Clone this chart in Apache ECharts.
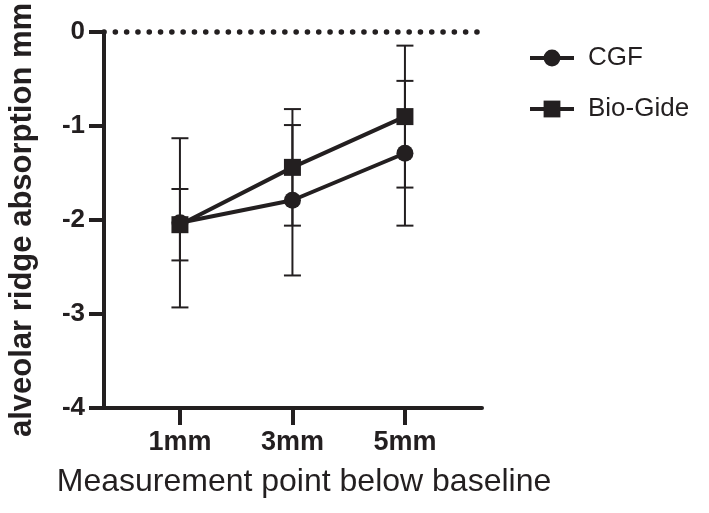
<!DOCTYPE html>
<html>
<head>
<meta charset="utf-8">
<script src="https://cdn.jsdelivr.net/npm/echarts@6/dist/echarts.min.js"></script>
<style>
  html, body { margin: 0; padding: 0; background: #fff; }
  #chart { width: 709px; height: 513px; }
</style>
</head>
<body>
<div id="chart"></div>
<script>
const categories = ['1mm', '3mm', '5mm']
const xPos = [1, 3, 5]
const cgfMean = [-2.03, -1.79, -1.29]
const cgfSd = [0.90, 0.80, 0.77]
const bioMean = [-2.05, -1.44, -0.90]
const bioSd = [0.38, 0.62, 0.755]

const ink = '#231f20'
const font = 'Liberation Sans, Arial, sans-serif'

const chart = echarts.init(document.getElementById('chart'))

const errData = (mean, sd) => xPos.map((x, i) => [x, mean[i] - sd[i], mean[i] + sd[i]])

const renderErr = (params, api) => {
  const x = api.value(0)
  const lo = api.coord([x, api.value(1)])
  const hi = api.coord([x, api.value(2)])
  const half = 8.5
  const st = { stroke: ink, lineWidth: 2 }
  return {
    type: 'group',
    children: [
      { type: 'line', shape: { x1: hi[0], y1: hi[1], x2: lo[0], y2: lo[1] }, style: st },
      { type: 'line', shape: { x1: hi[0] - half, y1: hi[1], x2: hi[0] + half, y2: hi[1] }, style: st },
      { type: 'line', shape: { x1: lo[0] - half, y1: lo[1], x2: lo[0] + half, y2: lo[1] }, style: st },
    ],
  }
}

const option = {
  animation: false,
  grid: { left: 104, right: 227, top: 32, bottom: 105, outerBoundsMode: 'none' },
  legend: {
    data: ['CGF', 'Bio-Gide'],
    orient: 'vertical',
    left: 523,
    top: 40,
    itemWidth: 44,
    itemHeight: 21,
    itemGap: 25,
    lineStyle: { width: 4, color: ink },
    textStyle: { fontFamily: font, fontSize: 26, color: ink, padding: [0, 0, 0, 9] },
  },
  xAxis: {
    type: 'value',
    min: -0.35,
    max: 6.37,
    name: 'Measurement point below baseline',
    nameLocation: 'middle',
    nameGap: 58,
    nameTextStyle: { fontFamily: font, fontSize: 32, color: ink, padding: [0, 0, 0, 22] },
    axisLine: { onZero: false, lineStyle: { color: ink, width: 4 } },
    axisTick: { customValues: xPos, length: 17, lineStyle: { color: ink, width: 4 } },
    axisLabel: {
      customValues: xPos,
      margin: 21,
      fontFamily: font,
      fontSize: 27,
      fontWeight: 'bold',
      color: ink,
      formatter: v => categories[xPos.indexOf(v)] || '',
    },
    splitLine: { show: false },
  },
  yAxis: {
    type: 'value',
    min: -4,
    max: 0,
    interval: 1,
    name: 'alveolar ridge absorption mm',
    nameLocation: 'middle',
    nameGap: 66,
    nameTextStyle: { fontFamily: font, fontSize: 31, fontWeight: 'bold', color: ink },
    axisLine: { onZero: false, lineStyle: { color: ink, width: 4 } },
    axisTick: { length: 15, lineStyle: { color: ink, width: 4 } },
    axisLabel: { margin: 19, fontFamily: font, fontSize: 26, fontWeight: 'bold', color: ink },
    splitLine: { show: false },
  },
  series: [
    {
      type: 'custom',
      name: 'CGF err',
      renderItem: renderErr,
      data: errData(cgfMean, cgfSd),
      encode: { x: 0, y: [1, 2] },
      clip: false,
      z: 1,
      silent: true,
    },
    {
      type: 'custom',
      name: 'Bio-Gide err',
      renderItem: renderErr,
      data: errData(bioMean, bioSd),
      encode: { x: 0, y: [1, 2] },
      clip: false,
      z: 1,
      silent: true,
    },
    {
      name: 'CGF',
      type: 'line',
      data: xPos.map((x, i) => [x, cgfMean[i]]),
      symbol: 'circle',
      symbolSize: 17,
      lineStyle: { color: ink, width: 4 },
      itemStyle: { color: ink },
      z: 3,
      markLine: {
        silent: true,
        symbol: 'none',
        label: { show: false },
        lineStyle: { color: ink, width: 5.5, type: [0.1, 11.2], cap: 'round' },
        data: [{ yAxis: 0 }],
      },
    },
    {
      name: 'Bio-Gide',
      type: 'line',
      data: xPos.map((x, i) => [x, bioMean[i]]),
      symbol: 'rect',
      symbolSize: 17,
      lineStyle: { color: ink, width: 4 },
      itemStyle: { color: ink },
      z: 4,
    },
  ],
}

chart.setOption(option)
</script>
</body>
</html>
